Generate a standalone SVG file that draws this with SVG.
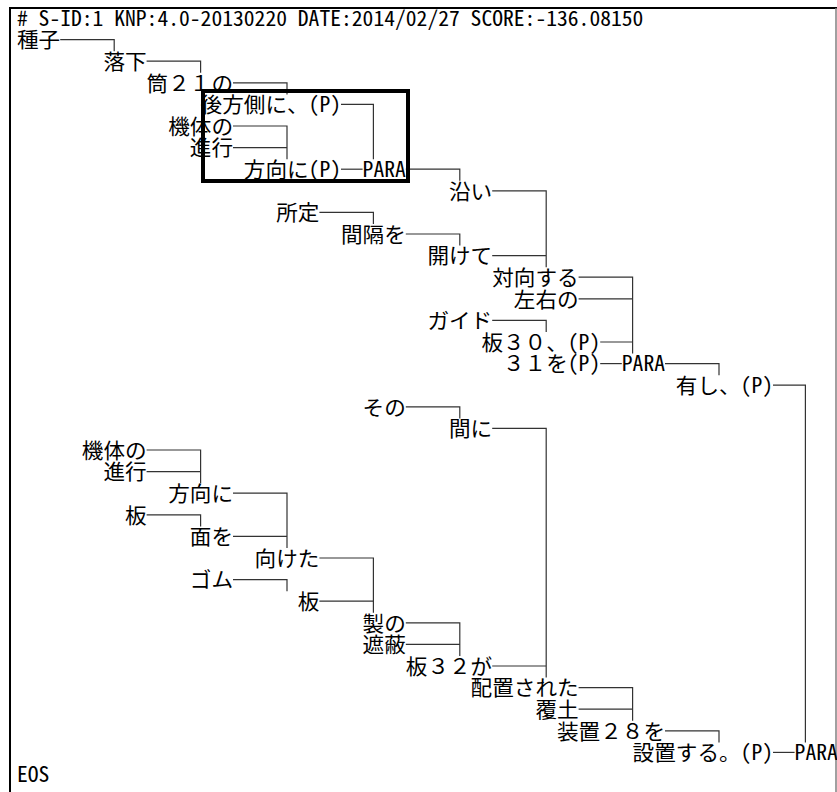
<svg xmlns="http://www.w3.org/2000/svg" width="837" height="792" viewBox="0 0 837 792">
<style>
.t{font-family:"Noto Sans Mono CJK JP","Noto Sans CJK JP","DejaVu Sans",sans-serif;font-size:21px;fill:#000}
.c{fill:none;stroke:#333;stroke-width:1.2}
</style>
<rect x="0" y="0" width="837" height="792" fill="#fff"/>
<g id="frame">
<path d="M9 8H837" stroke="#000" stroke-width="2" fill="none"/>
<path d="M10 8V792" stroke="#000" stroke-width="2" fill="none"/>
<path d="M836 8V792" stroke="#808080" stroke-width="1.5" fill="none"/>
</g>
<g id="header"><text class="t" x="17" y="25.8" textLength="626.4" lengthAdjust="spacingAndGlyphs"># S-ID:1 KNP:4.0-20130220 DATE:2014/02/27 SCORE:-136.08150</text></g>
<g id="connectors" class="c">
<path d="M60.2 39.6H114.2V51.2"/>
<path d="M146.6 61.2H200.6V72.8"/>
<path d="M233 82.8H287V94.4"/>
<path d="M341 104.4H373.4V159.2"/>
<path d="M233 126H287V159.2M233 147.6H287"/>
<path d="M341 169.2H362.6"/>
<path d="M405.8 169.2H459.8V180.8"/>
<path d="M492.2 190.8H546.2V267.2M492.2 255.6H546.2"/>
<path d="M319.4 212.4H373.4V224"/>
<path d="M405.8 234H459.8V245.6"/>
<path d="M578.6 277.2H632.6V353.6M578.6 298.8H632.6M600.2 342H632.6"/>
<path d="M492.2 320.4H546.2V332"/>
<path d="M600.2 363.6H621.8"/>
<path d="M665 363.6H719V375.2"/>
<path d="M773 385.2H805.4V742.4"/>
<path d="M405.8 406.8H459.8V418.4"/>
<path d="M492.2 428.4H546.2V677.6M492.2 666H546.2"/>
<path d="M146.6 450H200.6V483.2M146.6 471.6H200.6"/>
<path d="M233 493.2H287V548M233 536.4H287"/>
<path d="M146.6 514.8H200.6V526.4"/>
<path d="M319.4 558H373.4V612.8M319.4 601.2H373.4"/>
<path d="M233 579.6H287V591.2"/>
<path d="M405.8 622.8H459.8V656M405.8 644.4H459.8"/>
<path d="M578.6 687.6H632.6V720.8M578.6 709.2H632.6"/>
<path d="M665 730.8H719V742.4"/>
<path d="M773 752.4H794.6"/>
</g>
<g id="n1"><text class="t" x="17" y="47.4" textLength="43.2" lengthAdjust="spacingAndGlyphs">種子</text></g>
<g id="n2"><text class="t" x="103.4" y="69" textLength="43.2" lengthAdjust="spacingAndGlyphs">落下</text></g>
<g id="n3"><text class="t" x="146.6" y="90.6" textLength="86.4" lengthAdjust="spacingAndGlyphs">筒２１の</text></g>
<g id="n4"><text class="t" x="200.6" y="112.2" textLength="140.4" lengthAdjust="spacingAndGlyphs">後方側に、(P)</text></g>
<g id="n5"><text class="t" x="168.2" y="133.8" textLength="64.8" lengthAdjust="spacingAndGlyphs">機体の</text></g>
<g id="n6"><text class="t" x="189.8" y="155.4" textLength="43.2" lengthAdjust="spacingAndGlyphs">進行</text></g>
<g id="n7"><text class="t" x="243.8" y="177" textLength="97.2" lengthAdjust="spacingAndGlyphs">方向に(P)</text></g>
<g id="n8"><text class="t" x="362.6" y="177" textLength="43.2" lengthAdjust="spacingAndGlyphs">PARA</text></g>
<g id="n9"><text class="t" x="449" y="198.6" textLength="43.2" lengthAdjust="spacingAndGlyphs">沿い</text></g>
<g id="n10"><text class="t" x="276.2" y="220.2" textLength="43.2" lengthAdjust="spacingAndGlyphs">所定</text></g>
<g id="n11"><text class="t" x="341" y="241.8" textLength="64.8" lengthAdjust="spacingAndGlyphs">間隔を</text></g>
<g id="n12"><text class="t" x="427.4" y="263.4" textLength="64.8" lengthAdjust="spacingAndGlyphs">開けて</text></g>
<g id="n13"><text class="t" x="492.2" y="285" textLength="86.4" lengthAdjust="spacingAndGlyphs">対向する</text></g>
<g id="n14"><text class="t" x="513.8" y="306.6" textLength="64.8" lengthAdjust="spacingAndGlyphs">左右の</text></g>
<g id="n15"><text class="t" x="427.4" y="328.2" textLength="64.8" lengthAdjust="spacingAndGlyphs">ガイド</text></g>
<g id="n16"><text class="t" x="481.4" y="349.8" textLength="118.8" lengthAdjust="spacingAndGlyphs">板３０、(P)</text></g>
<g id="n17"><text class="t" x="503" y="371.4" textLength="97.2" lengthAdjust="spacingAndGlyphs">３１を(P)</text></g>
<g id="n18"><text class="t" x="621.8" y="371.4" textLength="43.2" lengthAdjust="spacingAndGlyphs">PARA</text></g>
<g id="n19"><text class="t" x="675.8" y="393" textLength="97.2" lengthAdjust="spacingAndGlyphs">有し、(P)</text></g>
<g id="n20"><text class="t" x="362.6" y="414.6" textLength="43.2" lengthAdjust="spacingAndGlyphs">その</text></g>
<g id="n21"><text class="t" x="449" y="436.2" textLength="43.2" lengthAdjust="spacingAndGlyphs">間に</text></g>
<g id="n22"><text class="t" x="81.8" y="457.8" textLength="64.8" lengthAdjust="spacingAndGlyphs">機体の</text></g>
<g id="n23"><text class="t" x="103.4" y="479.4" textLength="43.2" lengthAdjust="spacingAndGlyphs">進行</text></g>
<g id="n24"><text class="t" x="168.2" y="501" textLength="64.8" lengthAdjust="spacingAndGlyphs">方向に</text></g>
<g id="n25"><text class="t" x="125" y="522.6" textLength="21.6" lengthAdjust="spacingAndGlyphs">板</text></g>
<g id="n26"><text class="t" x="189.8" y="544.2" textLength="43.2" lengthAdjust="spacingAndGlyphs">面を</text></g>
<g id="n27"><text class="t" x="254.6" y="565.8" textLength="64.8" lengthAdjust="spacingAndGlyphs">向けた</text></g>
<g id="n28"><text class="t" x="189.8" y="587.4" textLength="43.2" lengthAdjust="spacingAndGlyphs">ゴム</text></g>
<g id="n29"><text class="t" x="297.8" y="609" textLength="21.6" lengthAdjust="spacingAndGlyphs">板</text></g>
<g id="n30"><text class="t" x="362.6" y="630.6" textLength="43.2" lengthAdjust="spacingAndGlyphs">製の</text></g>
<g id="n31"><text class="t" x="362.6" y="652.2" textLength="43.2" lengthAdjust="spacingAndGlyphs">遮蔽</text></g>
<g id="n32"><text class="t" x="405.8" y="673.8" textLength="86.4" lengthAdjust="spacingAndGlyphs">板３２が</text></g>
<g id="n33"><text class="t" x="470.6" y="695.4" textLength="108" lengthAdjust="spacingAndGlyphs">配置された</text></g>
<g id="n34"><text class="t" x="535.4" y="717" textLength="43.2" lengthAdjust="spacingAndGlyphs">覆土</text></g>
<g id="n35"><text class="t" x="557" y="738.6" textLength="108" lengthAdjust="spacingAndGlyphs">装置２８を</text></g>
<g id="n36"><text class="t" x="632.6" y="760.2" textLength="140.4" lengthAdjust="spacingAndGlyphs">設置する。(P)</text></g>
<g id="n37"><text class="t" x="794.6" y="760.2" textLength="43.2" lengthAdjust="spacingAndGlyphs">PARA</text></g>
<g id="eos"><text class="t" x="17" y="781.8" textLength="32.4" lengthAdjust="spacingAndGlyphs">EOS</text></g>
<g id="highlight"><rect x="203" y="91" width="205" height="90" fill="none" stroke="#000" stroke-width="4"/></g>
</svg>
